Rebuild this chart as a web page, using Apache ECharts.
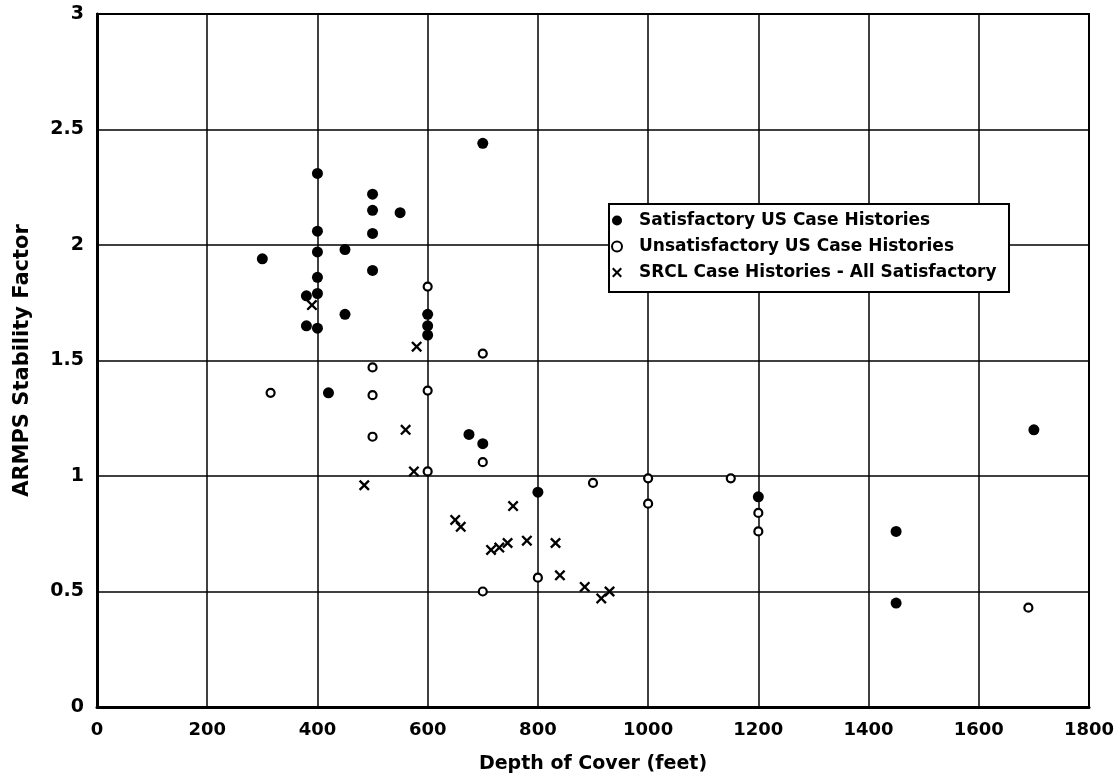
<!DOCTYPE html>
<html><head><meta charset="utf-8">
<script src="https://cdn.jsdelivr.net/npm/echarts@6/dist/echarts.min.js"></script>
<style>html,body{margin:0;padding:0;background:#fff}#c{width:1119px;height:779px}</style>
</head><body><div id="c"></div>
<script>
const satDepth = [300,380,380,400,400,400,400,400,400,420,450,450,500,500,500,500,550,600,600,600,675,700,700,800,1200,1450,1450,1700];
const satSF    = [1.94,1.78,1.65,2.31,2.06,1.97,1.86,1.79,1.64,1.36,1.98,1.70,2.22,2.15,2.05,1.89,2.14,1.70,1.65,1.61,1.18,2.44,1.14,0.93,0.91,0.76,0.45,1.20];
const unsatDepth = [315,500,500,500,600,600,600,700,700,700,800,900,1000,1000,1150,1200,1200,1690];
const unsatSF    = [1.36,1.47,1.35,1.17,1.82,1.37,1.02,1.53,1.06,0.50,0.56,0.97,0.99,0.88,0.99,0.84,0.76,0.43];
const srclDepth = [390,485,560,575,580,650,660,715,730,745,755,780,832,840,885,915,930];
const srclSF    = [1.74,0.96,1.20,1.02,1.56,0.81,0.78,0.68,0.69,0.71,0.87,0.72,0.71,0.57,0.52,0.47,0.50];
const seriesNames = ['Satisfactory US Case Histories','Unsatisfactory US Case Histories','SRCL Case Histories - All Satisfactory'];
const xTitle = 'Depth of Cover (feet)';
const yTitle = 'ARMPS Stability Factor';

const pair = (xs, ys) => xs.map((x, i) => [x, ys[i]]);
const XSYM = 'path://M0,1.5 L1.5,0 L5,3.5 L8.5,0 L10,1.5 L6.5,5 L10,8.5 L8.5,10 L5,6.5 L1.5,10 L0,8.5 L3.5,5 Z';
const FONT = 'DejaVu Sans';

const chart = echarts.init(document.getElementById('c'));
chart.setOption({
  backgroundColor: '#fff',
  animation: false,
  textStyle: { fontFamily: FONT, color: '#000' },
  grid: { left: 97, right: 30, top: 14, bottom: 72, show: true, borderColor: '#000', borderWidth: 2,
          containLabel: false, outerBoundsMode: 'none' },
  xAxis: {
    type: 'value', min: 0, max: 1800, interval: 200,
    name: xTitle, nameLocation: 'middle', nameGap: 48,
    nameTextStyle: { fontFamily: FONT, fontWeight: 'bold', fontSize: 19, color: '#000' },
    axisLine: { show: true, lineStyle: { color: '#000', width: 3 } },
    axisTick: { show: false },
    axisLabel: { fontFamily: FONT, fontWeight: 'bold', fontSize: 18, color: '#000', margin: 14,
                 formatter: v => String(v) },
    splitLine: { show: true, lineStyle: { color: '#000', width: 1.5 } }
  },
  yAxis: {
    type: 'value', min: 0, max: 3, interval: 0.5,
    name: yTitle, nameLocation: 'middle', nameGap: 64, nameRotate: 90,
    nameTextStyle: { fontFamily: FONT, fontWeight: 'bold', fontSize: 21, color: '#000' },
    axisLine: { show: true, lineStyle: { color: '#000', width: 3 } },
    axisTick: { show: false },
    axisLabel: { fontFamily: FONT, fontWeight: 'bold', fontSize: 19, color: '#000', margin: 13,
                 formatter: v => String(v) },
    splitLine: { show: true, lineStyle: { color: '#000', width: 1.5 } }
  },
  graphic: [{
    type: 'rect', left: 608, top: 203, z: 50,
    shape: { width: 400, height: 88 },
    style: { fill: '#fff', stroke: '#000', lineWidth: 2 }
  }],
  legend: {
    z: 60, orient: 'vertical', left: 606, top: 203,
    padding: [9, 10, 9, 5], itemGap: 9, itemWidth: 10, itemHeight: 10,
    textStyle: { fontFamily: FONT, fontWeight: 'bold', fontSize: 17, lineHeight: 17, color: '#000', padding: [0,0,0,12] },
    data: [
      { name: seriesNames[0], icon: 'circle', itemStyle: { color: '#000', borderWidth: 0 } },
      { name: seriesNames[1], icon: 'circle', itemStyle: { color: '#fff', borderColor: '#000', borderWidth: 2 } },
      { name: seriesNames[2], icon: XSYM, itemStyle: { color: '#000', borderWidth: 0 } }
    ]
  },
  series: [
    { name: seriesNames[0], type: 'scatter', data: pair(satDepth, satSF), symbol: 'circle', symbolSize: 11,
      itemStyle: { color: '#000', opacity: 1 } },
    { name: seriesNames[1], type: 'scatter', data: pair(unsatDepth, unsatSF), symbol: 'circle', symbolSize: 8,
      itemStyle: { color: '#fff', borderColor: '#000', borderWidth: 2.2, opacity: 1 } },
    { name: seriesNames[2], type: 'scatter', data: pair(srclDepth, srclSF), symbol: XSYM, symbolSize: 11,
      itemStyle: { color: '#000', opacity: 1 } }
  ]
});
</script></body></html>
